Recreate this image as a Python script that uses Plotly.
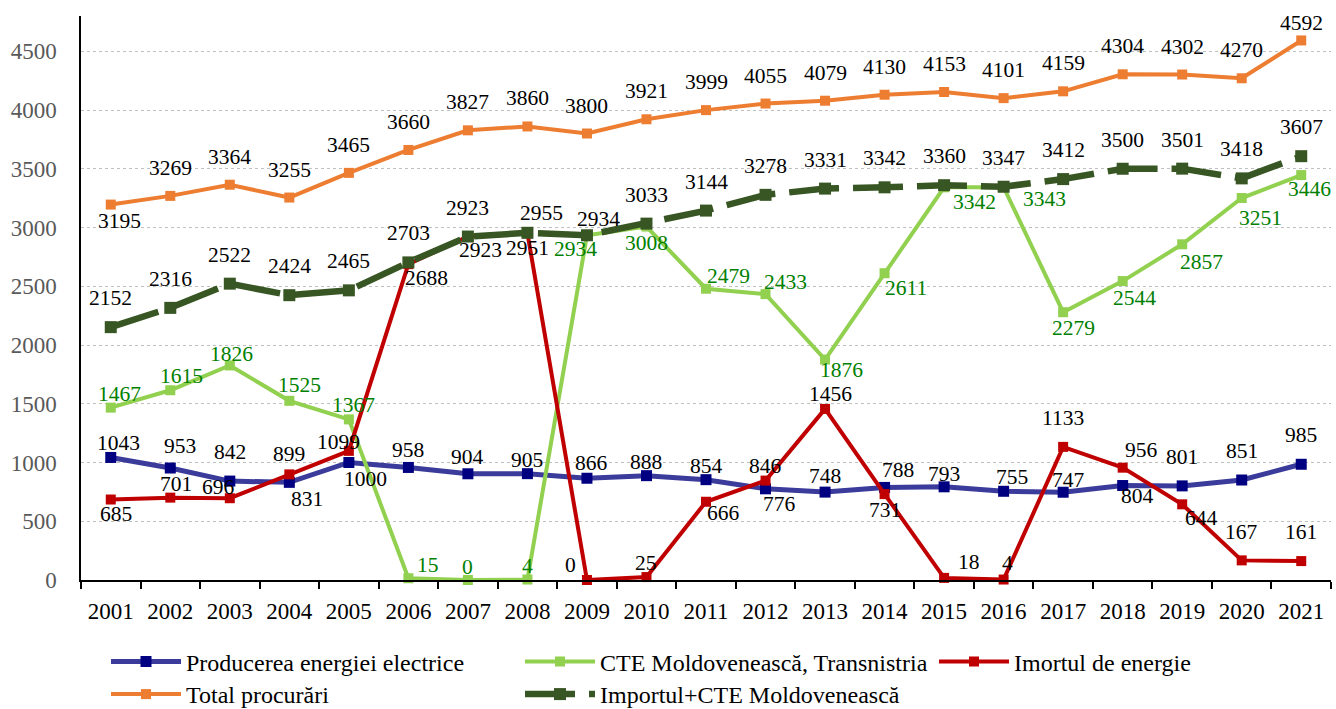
import plotly.graph_objects as go

years = [2001, 2002, 2003, 2004, 2005, 2006, 2007, 2008, 2009, 2010,
         2011, 2012, 2013, 2014, 2015, 2016, 2017, 2018, 2019, 2020, 2021]
productie = [1043, 953, 842, 831, 1000, 958, 904, 905, 866, 888, 854, 776, 748, 788, 793, 755, 747, 804, 801, 851, 985]
cte = [1467, 1615, 1826, 1525, 1367, 15, 0, 4, 2934, 3008, 2479, 2433, 1876, 2611, 3342, 3343, 2279, 2544, 2857, 3251, 3446]
importul = [685, 701, 696, 899, 1099, 2688, 2923, 2951, 0, 25, 666, 846, 1456, 731, 18, 4, 1133, 956, 644, 167, 161]
total = [3195, 3269, 3364, 3255, 3465, 3660, 3827, 3860, 3800, 3921, 3999, 4055, 4079, 4130, 4153, 4101, 4159, 4304, 4302, 4270, 4592]
import_cte = [2152, 2316, 2522, 2424, 2465, 2703, 2923, 2955, 2934, 3033, 3144, 3278, 3331, 3342, 3360, 3347, 3412, 3500, 3501, 3418, 3607]

names = ["Producerea energiei electrice", "CTE Moldovenească, Transnistria", "Imortul de energie",
         "Total procurări", "Importul+CTE Moldovenească"]
y_ticks = [0, 500, 1000, 1500, 2000, 2500, 3000, 3500, 4000, 4500]

# label offsets in pixels (dx, dy) - styling only
off_prod = [(8, 14), (10, 22), (0, 29), (18, -17), (17, -16), (0, 17), (0, 17), (0, 14), (5, 15), (0, 14), (0, 14),
            (14, -15), (0, 16), (13, 17), (0, 13), (8, 14), (5, 12), (15, -10), (0, 29), (0, 29), (0, 29)]
off_imp = [(5, -14), (6, 14), (-11, 11), (0, 20), (-10, 9), (18, -14), (13, -13), (0, -15), (-16, 15), (0, 14),
           (17, -11), (0, 15), (5, 15), (0, -16), (25, 16), (4, 17), (0, 29), (19, 18), (19, -14), (0, 28), (0, 29)]
off_cte = [(9, 14), (11, 14), (2, 11), (10, 16), (5, 14), (20, 13), (0, 13), (0, 14), (-11, -14), (0, -16), (22, 13),
           (20, 12), (16, -10), (21, -15), (30, -15), (41, -12), (10, -16), (12, -17), (19, -18), (19, -20), (8, -14)]
off_total = [(9, -16)] + [(0, 28)] * 19 + [(0, 17)]
off_ic = [(0, 29)] * 7 + [(14, 20), (12, 16)] + [(0, 29)] * 12

FONT = "Liberation Serif, Times New Roman, serif"

fig = go.Figure()

def add_line(y, name, line_color, marker_color, width, size, legend, dash="solid"):
    fig.add_trace(go.Scatter(
        x=years, y=y, name=name, mode="lines+markers",
        line=dict(color=line_color, width=width, dash=dash),
        marker=dict(symbol="square", size=size, color=marker_color, line=dict(width=0)),
        legend=legend, cliponaxis=False,
    ))

add_line(productie, names[0], "#3B3B9B", "#000080", 5, 11, "legend")
add_line(cte, names[1], "#92D050", "#92D050", 4, 10, "legend")
add_line(importul, names[2], "#C00000", "#C00000", 4, 10, "legend")
add_line(total, names[3], "#ED7D31", "#ED7D31", 4, 10, "legend2")
add_line(import_cte, names[4], "#375623", "#375623", 6.5, 12, "legend2", dash="50px,14px")

annotations = []
for ys, offs, col in [(productie, off_prod, "black"), (cte, off_cte, "#008000"), (importul, off_imp, "black"),
                      (total, off_total, "black"), (import_cte, off_ic, "black")]:
    for x, y, (dx, dy) in zip(years, ys, offs):
        annotations.append(dict(
            x=x, y=y, xref="x", yref="y", text=str(y), showarrow=False,
            xshift=dx, yshift=dy, xanchor="center", yanchor="middle",
            font=dict(family=FONT, size=21.5, color=col),
        ))

legend_common = dict(
    orientation="h", xanchor="left", yanchor="middle",
    font=dict(family=FONT, size=24, color="black"),
    itemwidth=70, entrywidth=329, entrywidthmode="pixels",
    bgcolor="rgba(0,0,0,0)", borderwidth=0, traceorder="normal",
)

fig.update_layout(
    width=1336, height=709,
    margin=dict(l=81, r=5, t=16, b=129, autoexpand=False),
    paper_bgcolor="white", plot_bgcolor="white",
    font=dict(family=FONT, color="black"),
    showlegend=True,
    legend=dict(x=0.02, y=-0.145, **legend_common),
    legend2=dict(x=0.02, y=-0.203, **legend_common),
    annotations=annotations,
    xaxis=dict(
        range=[2000.5, 2021.5], tickmode="array", tickvals=years, ticktext=[str(v) for v in years],
        showline=True, linecolor="black", linewidth=1.5,
        ticks="", ticklabelstandoff=10,
        minor=dict(tick0=2000.5, dtick=1, ticks="outside", ticklen=7, tickcolor="black", tickwidth=1.5, showgrid=False),
        tickfont=dict(family=FONT, size=23, color="black"),
        showgrid=False, zeroline=False,
    ),
    yaxis=dict(
        range=[0, 4800], tickmode="array", tickvals=y_ticks, ticktext=[str(v) for v in y_ticks],
        showline=True, linecolor="black", linewidth=1.5,
        showgrid=True, gridcolor="#BFBFBF", griddash="dot", gridwidth=1,
        zeroline=False, ticks="", ticklabelstandoff=18,
        tickfont=dict(family=FONT, size=23, color="#595959"),
    ),
)

fig.write_html("out.html", config={"displayModeBar": False},
               post_script="document.body.style.margin='0';")
